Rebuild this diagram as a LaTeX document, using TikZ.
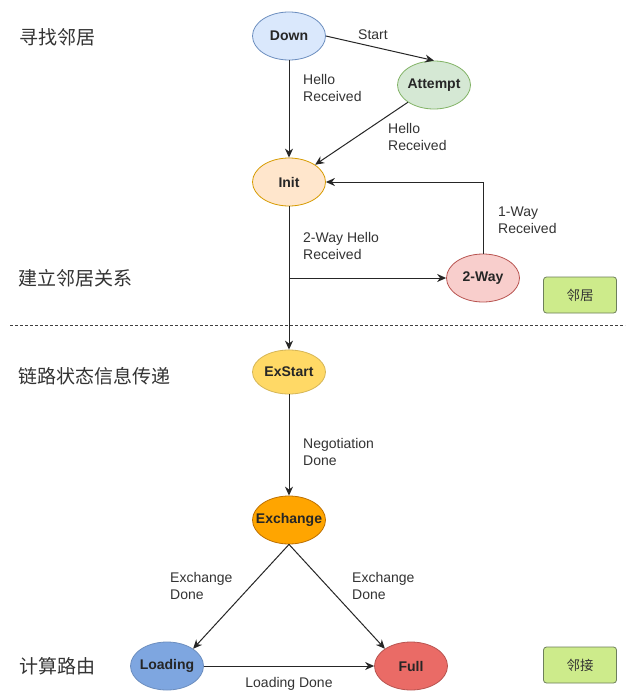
\documentclass[tikz,border=0pt]{standalone}
\usepackage{fontspec}
\setmainfont{Liberation Sans}
\newfontfamily\cjk{Noto Sans CJK SC}
\usetikzlibrary{shapes.geometric,arrows.meta}
\definecolor{txtgray}{HTML}{333333}
\definecolor{tagfill}{HTML}{CDEB8B}
\definecolor{tagdraw}{HTML}{6D7F5A}
\definecolor{downF}{HTML}{DAE8FC}\definecolor{downD}{HTML}{6C8EBF}
\definecolor{attF}{HTML}{D5E8D4}\definecolor{attD}{HTML}{82B366}
\definecolor{initF}{HTML}{FFE6CC}\definecolor{initD}{HTML}{D79B00}
\definecolor{twoF}{HTML}{F8CECC}\definecolor{twoD}{HTML}{B85450}
\definecolor{exsF}{HTML}{FFD966}\definecolor{exsD}{HTML}{D6B656}
\definecolor{excF}{HTML}{FFA500}\definecolor{excD}{HTML}{BD7000}
\definecolor{loadF}{HTML}{7EA6E0}\definecolor{loadD}{HTML}{6C8EBF}
\definecolor{fullF}{HTML}{EA6B66}\definecolor{fullD}{HTML}{B85450}
\tikzset{
  st/.style={ellipse, draw, line width=0.8pt, minimum width=73pt, minimum height=48pt, inner xsep=-14pt, inner ysep=0pt, text=black!85, font=\fontsize{14}{16}\selectfont\bfseries},
  lbl/.style={font=\fontsize{14}{17}\selectfont, text=txtgray, align=left, anchor=north west, inner sep=0pt},
  zh/.style={font=\cjk\fontsize{19}{22}\selectfont, text=txtgray, anchor=west, inner sep=0pt},
  tag/.style={draw=tagdraw, fill=tagfill, rounded corners=3pt, line width=0.8pt, minimum width=73pt, minimum height=36pt, font=\cjk\fontsize{13.5}{15}\selectfont, text=txtgray},
  arr/.style={-{Stealth[length=9pt,width=8pt]}, line width=1pt, draw=black!85},
}
\begin{document}
\begin{tikzpicture}[x=1pt,y=-1pt]
\useasboundingbox (0,0) rectangle (628,693);
\fill[white] (0,0) rectangle (628,693);

% states
\node[st, fill=downF, draw=downD] (down) at (289,36) {Down};
\node[st, fill=attF, draw=attD] (att) at (434,85) {Attempt};
\node[st, fill=initF, draw=initD] (init) at (289,182) {Init};
\node[st, fill=twoF, draw=twoD] (two) at (483,278) {2-Way};
\node[st, fill=exsF, draw=exsD, minimum height=44pt] (exs) at (289,372) {ExStart};
\node[st, fill=excF, draw=excD] (exc) at (289,520) {Exchange};
\node[st, fill=loadF, draw=loadD] (load) at (167,666) {Loading};
\node[st, fill=fullF, draw=fullD] (full) at (411,666) {Full};

% tags
\node[tag] (t1) at (580,295) {邻居};
\node[tag] (t2) at (580,665) {邻接};

% phase labels
\node[zh] (p1) at (19,37) {寻找邻居};
\node[zh] (p2) at (18,278) {建立邻居关系};
\node[zh] (p3) at (18,376) {链路状态信息传递};
\node[zh] (p4) at (19,666) {计算路由};

% dashed separator
\coordinate (dl) at (10,325);
\coordinate (dr) at (625,325);
\draw[line width=0.8pt, draw=black!75, dash pattern=on 3pt off 2pt] (dl) -- (dr);

% connectors
\draw[arr] (down.east) -- (att.north);
\draw[arr] (down.south) -- (init.north);
\draw[arr] (att.south west) -- (init.north east);
\draw[arr] (two.north) |- (init.east);
\draw[arr] (init.south) -- (exs.north);
\coordinate (br) at (init.south |- two.west);
\draw[arr] (br) -- (two.west);
\draw[arr] (exs.south) -- (exc.north);
\draw[arr] (exc.south) -- (load.north east);
\draw[arr] (exc.south) -- (full.north west);
\draw[arr] (load.east) -- (full.west);

% edge labels
\node[lbl, anchor=west] (l1) at (358,35) {Start};
\node[lbl] (l2) at (303,74) {Hello\\Received};
\node[lbl] (l3) at (388,123) {Hello\\Received};
\node[lbl] (l4) at (303,232) {2-Way Hello\\Received};
\node[lbl] (l5) at (498,207) {1-Way\\Received};
\node[lbl] (l6) at (303,438) {Negotiation\\Done};
\node[lbl] (l7) at (170,572) {Exchange\\Done};
\node[lbl] (l8) at (352,572) {Exchange\\Done};
\node[lbl, anchor=center] (l9) at (289,684) {Loading Done};
\end{tikzpicture}
\end{document}
